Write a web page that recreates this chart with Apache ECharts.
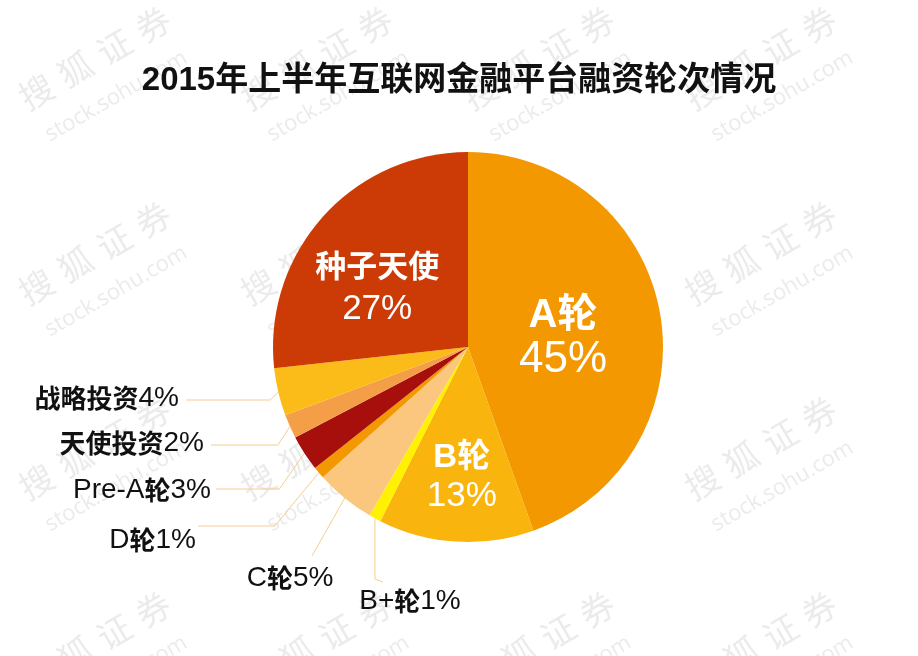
<!DOCTYPE html>
<html>
<head>
<meta charset="utf-8">
<script src="https://cdn.jsdelivr.net/npm/echarts@6/dist/echarts.min.js"></script>
<style>
html,body{margin:0;padding:0;background:#fff;}
#main{width:918px;height:656px;}
</style>
</head>
<body>
<div id="main"></div>
<script>
// ---- data ----
const titleText = '2015年上半年互联网金融平台融资轮次情况';
const categories = ['A轮', 'B轮', 'B+轮', 'C轮', 'D轮', 'Pre-A轮', '天使投资', '战略投资', '种子天使'];
const values = [45, 13, 1, 5, 1, 3, 2, 4, 27];
const colors = ['#F39800', '#F9B50E', '#FFF100', '#FBC67E', '#F39800', '#A60F0C', '#F59E48', '#FBBC1A', '#CC3B06'];
const insideNames = ['A轮', 'B轮', '种子天使'];

// ---- styling / layout ----
const FONT = '"Liberation Sans", Arial, "Noto Sans CJK SC", sans-serif';
const insideStyle = {
  'A轮': { n: 40, v: 44, lh: 44, shift: [-4, 8] },
  'B轮': { n: 33, v: 35, lh: 38, shift: [0, 30] },
  '种子天使': { n: 31, v: 35, lh: 40, shift: [-16, 9] }
};
const outsideLayout = {
  '战略投资': { x: 179, y: 398, align: 'right', bend: [-8, 400], end: [186, 400] },
  '天使投资': { x: 204, y: 443, align: 'right', bend: [-12, 445], end: [211, 445] },
  'Pre-A轮': { x: 211, y: 490, align: 'right', bend: [-25, 489], end: [216, 489] },
  'D轮': { x: 196, y: 540, align: 'right', bend: [-44, 526], end: [198, 526] },
  'C轮': { x: 290, y: 578, align: 'center', bend: null, end: [312, 556] },
  'B+轮': { x: 410, y: 601, align: 'center', bend: [0, 579], end: [383, 582] }
};

function cjkWrap(s) {
  return s.replace(/([\u4e00-\u9fff]+)/g, '{c|$1}');
}

const seriesData = categories.map(function (name, i) {
  const item = { name: name, value: values[i], itemStyle: { color: colors[i] } };
  if (insideNames.indexOf(name) >= 0) {
    const st = insideStyle[name];
    item.label = {
      show: true,
      position: 'inside',
      formatter: function (p) { return '{n|' + p.name + '}\n{v|' + p.value + '%}'; },
      rich: {
        n: { fontSize: st.n, fontWeight: 'bold', color: '#fff', fontFamily: FONT, lineHeight: st.lh, align: 'center' },
        v: { fontSize: st.v, fontWeight: 'normal', color: '#fff', fontFamily: FONT, lineHeight: st.lh, align: 'center' }
      }
    };
    item.labelLine = { show: false };
  } else {
    item.label = {
      show: true,
      position: 'outside',
      formatter: function (p) { return cjkWrap(p.name) + p.value + '%'; },
      fontSize: 28,
      color: '#111',
      fontFamily: FONT,
      rich: {
        c: { fontSize: 26, fontWeight: 'bold', color: '#111', fontFamily: '"Noto Sans CJK SC", sans-serif' }
      }
    };
    item.labelLine = { show: true, length: 10, length2: 10, lineStyle: { color: '#F6CD8E', width: 1 } };
  }
  return item;
});

// watermark
const wm = [];
for (let j = 0; j < 4; j++) {
  for (let i = 0; i < 4; i++) {
    const children = [];
    const chars = ['搜', '狐', '证', '券'];
    chars.forEach(function (ch, k) {
      children.push({
        type: 'text', x: k * 45, y: 0,
        style: { text: ch, fontSize: 34, fontFamily: '"Noto Sans CJK SC", sans-serif', fill: 'rgba(195,195,195,0.34)', verticalAlign: 'bottom', align: 'left' }
      });
    });
    children.push({
      type: 'text', x: 4, y: 38,
      style: { text: 'stock.sohu.com', fontSize: 22, fontFamily: '"Open Sans", sans-serif', fill: 'rgba(195,195,195,0.34)', verticalAlign: 'bottom', align: 'left' }
    });
    wm.push({ type: 'group', x: 30 + 222 * i, y: 115 + 195 * j, rotation: Math.PI / 6, silent: true, z: 100, children: children });
  }
}

const chart = echarts.init(document.getElementById('main'), null, { renderer: 'canvas' });
chart.setOption({
  backgroundColor: '#fff',
  animation: false,
  title: {
    text: titleText,
    left: 'center',
    top: 59,
    textStyle: { fontSize: 33, fontWeight: 'bold', color: '#111', fontFamily: FONT }
  },
  graphic: wm,
  series: [{
    type: 'pie',
    center: [468, 347],
    radius: 195,
    startAngle: 90,
    clockwise: true,
    avoidLabelOverlap: false,
    data: seriesData,
    labelLayout: function (params) {
      const name = categories[params.dataIndex];
      const o = outsideLayout[name];
      if (o) {
        const res = { x: o.x, y: o.y, align: o.align, verticalAlign: 'middle' };
        const pts = params.labelLinePoints;
        if (pts && pts.length) {
          const e = pts[0];
          const mid = o.bend ? [e[0] + o.bend[0], o.bend[1]] : o.end;
          res.labelLinePoints = [e, mid, o.end];
        }
        return res;
      }
      const st = insideStyle[name];
      if (st) return { dx: st.shift[0], dy: st.shift[1] };
    }
  }]
});
</script>
</body>
</html>
